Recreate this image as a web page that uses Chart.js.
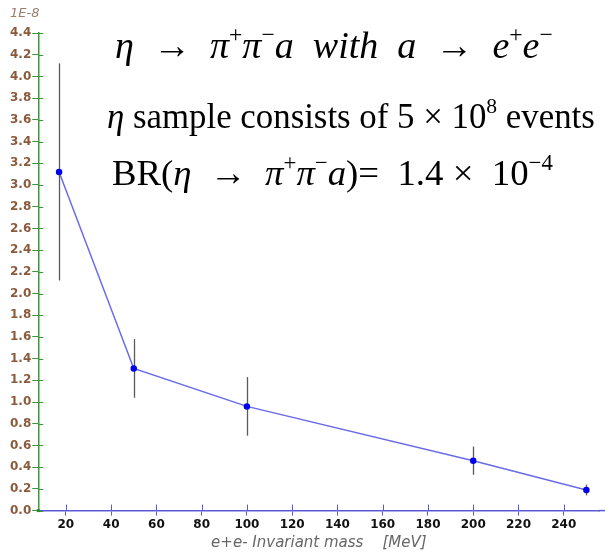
<!DOCTYPE html>
<html>
<head>
<meta charset="utf-8">
<script src="https://cdn.jsdelivr.net/npm/chart.js@4.4.1/dist/chart.umd.min.js"></script>
<style>
  body { margin: 0; background: #fff; }
  #wrap { width: 605px; height: 556px; }
</style>
</head>
<body>
<div id="wrap"><canvas id="massChart" width="605" height="556"></canvas></div>
<script>
// e+e- invariant mass [MeV] and upper limits (x 1E-8)
const masses = [17, 50, 100, 200, 250];
const values = [3.12, 1.31, 0.96, 0.46, 0.19];
const errors = [1.0, 0.27, 0.27, 0.13, 0.05];
const yTicks = [0, 4.4, 0.2];
const xTicks = [20, 240, 20];

// draws vertical error bars using the chart scales
const errorBars = {
    id: "errorBars",
    beforeDatasetsDraw(chart) {
        const ctx = chart.ctx;
        const xs = chart.scales.x, ys = chart.scales.y;
        ctx.save();
        ctx.strokeStyle = "#5a5a5a";
        ctx.lineWidth = 1.3;
        masses.forEach(function (m, i) {
            const px = Math.round(xs.getPixelForValue(m)) + 0.5;
            ctx.beginPath();
            ctx.moveTo(px, ys.getPixelForValue(values[i] + errors[i]));
            ctx.lineTo(px, ys.getPixelForValue(values[i] - errors[i]));
            ctx.stroke();
        });
        ctx.restore();
    }
};

// inner half of the axis tick marks (ticks cross the axis lines)
const innerTicks = {
    id: "innerTicks",
    afterDraw(chart) {
        const ctx = chart.ctx;
        const xs = chart.scales.x, ys = chart.scales.y;
        const a = chart.chartArea;
        ctx.save();
        ctx.lineWidth = 1;
        ctx.strokeStyle = "#3a9a3a";
        ys.ticks.forEach(function (t) {
            const py = Math.round(ys.getPixelForValue(t.value)) + 0.5;
            ctx.beginPath();
            ctx.moveTo(a.left, py);
            ctx.lineTo(a.left + 5, py);
            ctx.stroke();
        });
        ctx.strokeStyle = "#5a5ad8";
        xs.ticks.forEach(function (t) {
            const px = Math.round(xs.getPixelForValue(t.value)) + 0.5;
            ctx.beginPath();
            ctx.moveTo(px, a.bottom);
            ctx.lineTo(px, a.bottom - 6);
            ctx.stroke();
        });
        // axis line runs on to the edge of the canvas
        ctx.lineWidth = 1.5;
        ctx.beginPath();
        ctx.moveTo(a.right - 1, a.bottom);
        ctx.lineTo(chart.width, a.bottom);
        ctx.stroke();
        ctx.fillStyle = "#2a8a2a";
        ctx.fillRect(a.left - 1.5, a.bottom - 1.5, 3, 3);
        // exponent label
        ctx.fillStyle = "#9a7e6e";
        ctx.font = "italic 13px 'DejaVu Sans'";
        ctx.textAlign = "left";
        ctx.textBaseline = "alphabetic";
        ctx.fillText("1E-8", 10, 17);
        ctx.restore();
    }
};

// formula text drawn in a serif font, with superscripts, sized to a width
function drawRich(ctx, x, y, parts, width) {
    function fontFor(p, size) {
        const s = p.sup ? size * 0.62 : size;
        return (p.it ? "italic " : "") + s + "px 'Liberation Serif'";
    }
    let w = 0;
    parts.forEach(function (p) { ctx.font = fontFor(p, 20); w += ctx.measureText(p.t).width; });
    const size = 20 * width / w;
    parts.forEach(function (p) {
        ctx.font = fontFor(p, size);
        const dy = p.sup ? -size * 0.42 : 0;
        ctx.fillText(p.t, x, y + dy);
        x += ctx.measureText(p.t).width;
    });
}

const formulas = {
    id: "formulas",
    afterDraw(chart) {
        const ctx = chart.ctx;
        ctx.save();
        ctx.fillStyle = "#000";
        ctx.textAlign = "left";
        ctx.textBaseline = "alphabetic";
        drawRich(ctx, 115, 58, [
            {t: "η  →  π", it: true}, {t: "+", sup: true}, {t: "π", it: true}, {t: "−", sup: true},
            {t: "a  with  a  →  e", it: true}, {t: "+", sup: true}, {t: "e", it: true}, {t: "−", sup: true}
        ], 438);
        drawRich(ctx, 107, 128, [
            {t: "η", it: true}, {t: " sample consists of 5 × 10"}, {t: "8", sup: true}, {t: " events"}
        ], 488);
        drawRich(ctx, 112, 185, [
            {t: "BR("}, {t: "η", it: true}, {t: "  →  "}, {t: "π", it: true}, {t: "+", sup: true},
            {t: "π", it: true}, {t: "−", sup: true}, {t: "a", it: true}, {t: ")=  1.4 ×  10"},
            {t: "−4", sup: true}
        ], 441);
        ctx.restore();
    }
};

new Chart(document.getElementById("massChart").getContext("2d"), {
    type: "line",
    data: {
        datasets: [{
            data: masses.map(function (m, i) { return {x: m, y: values[i]}; }),
            borderColor: "#6a6ae8",
            borderWidth: 1.5,
            pointBackgroundColor: "#0000ee",
            pointBorderColor: "#0000ee",
            pointRadius: 2.5,
            tension: 0
        }]
    },
    options: {
        responsive: false,
        animation: false,
        layout: { padding: { top: 33, right: 0, left: 9, bottom: 4 } },
        plugins: { legend: { display: false }, tooltip: { enabled: false } },
        scales: {
            x: {
                type: "linear",
                min: 7.8,
                max: 255.8,
                afterBuildTicks: function (scale) {
                    const t = [];
                    for (let v = xTicks[0]; v <= xTicks[1]; v += xTicks[2]) t.push({value: v});
                    scale.ticks = t;
                },
                grid: { drawOnChartArea: false, tickLength: 5, color: "#5a5ad8" },
                border: { color: "#5a5ad8", width: 1.5 },
                ticks: { color: "#111", font: { family: "DejaVu Sans", weight: "bold", size: 12 }, padding: 2, maxRotation: 0 },
                title: {
                    display: true,
                    text: "e+e- Invariant mass    [MeV]",
                    color: "#666",
                    font: { family: "DejaVu Sans", style: "italic", size: 15 },
                    padding: { top: 0, bottom: 0 }
                }
            },
            y: {
                min: yTicks[0],
                max: yTicks[1],
                afterBuildTicks: function (scale) {
                    const t = [];
                    for (let i = 0; i <= Math.round(yTicks[1] / yTicks[2]); i++) t.push({value: +(i * yTicks[2]).toFixed(1)});
                    scale.ticks = t;
                },
                grid: { drawOnChartArea: false, tickLength: 6, color: "#3a9a3a" },
                border: { color: "#3a9a3a", width: 1.5 },
                ticks: {
                    color: "#8b5a3c",
                    font: { family: "DejaVu Sans", weight: "bold", size: 12 },
                    padding: 1,
                    callback: function (v) { return Number(v).toFixed(1); }
                }
            }
        }
    },
    plugins: [errorBars, innerTicks, formulas]
});
</script>
</body>
</html>
